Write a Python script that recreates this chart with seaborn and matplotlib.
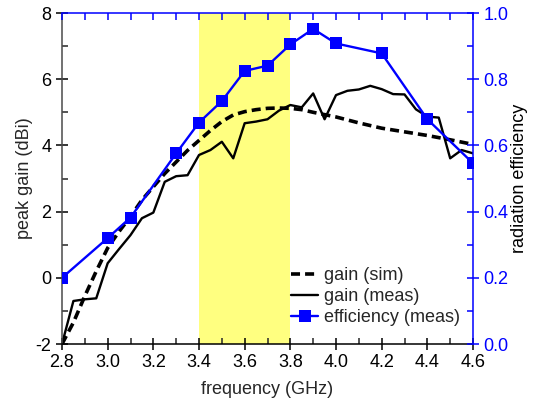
import matplotlib
matplotlib.use("Agg")
import matplotlib.pyplot as plt
import pandas as pd
import seaborn as sns
from matplotlib.ticker import MultipleLocator, FormatStrFormatter

# Simulated peak gain (dBi)
freq_sim = [2.80, 2.85, 2.90, 2.95, 3.00, 3.05, 3.10, 3.15, 3.20, 3.25, 3.30,
            3.35, 3.40, 3.45, 3.50, 3.55, 3.60, 3.65, 3.70, 3.75, 3.80, 3.85,
            3.90, 3.95, 4.00, 4.10, 4.20, 4.30, 4.40, 4.50, 4.60]
gain_sim = [-2.0, -1.35, -0.55, 0.2, 0.9, 1.4, 1.85, 2.35, 2.75, 3.15, 3.5,
            3.85, 4.15, 4.45, 4.72, 4.92, 5.02, 5.08, 5.12, 5.13, 5.12, 5.08,
            5.0, 4.93, 4.86, 4.68, 4.52, 4.41, 4.3, 4.17, 4.03]

# Measured peak gain (dBi)
freq_meas = [2.80, 2.85, 2.90, 2.95, 3.00, 3.05, 3.10, 3.15, 3.20, 3.25, 3.30,
             3.35, 3.40, 3.45, 3.50, 3.55, 3.60, 3.65, 3.70, 3.75, 3.80, 3.85,
             3.90, 3.95, 4.00, 4.05, 4.10, 4.15, 4.20, 4.25, 4.30, 4.35, 4.40,
             4.45, 4.50, 4.55, 4.60]
gain_meas = [-2.0, -0.7, -0.65, -0.62, 0.44, 0.87, 1.29, 1.8, 1.97, 2.9, 3.07,
             3.1, 3.71, 3.86, 4.11, 3.61, 4.67, 4.72, 4.79, 5.05, 5.22, 5.15,
             5.57, 4.79, 5.52, 5.65, 5.69, 5.80, 5.70, 5.55, 5.54, 5.09, 4.87,
             4.84, 3.61, 3.86, 3.76]

# Measured radiation efficiency
freq_eff = [2.8, 3.0, 3.1, 3.3, 3.4, 3.5, 3.6, 3.7, 3.8, 3.9, 4.0, 4.2, 4.4, 4.6]
eff_meas = [0.20, 0.32, 0.382, 0.576, 0.669, 0.734, 0.825, 0.841, 0.905,
            0.952, 0.908, 0.878, 0.679, 0.546]

df_sim = pd.DataFrame({"freq": freq_sim, "gain": gain_sim})
df_meas = pd.DataFrame({"freq": freq_meas, "gain": gain_meas})
df_eff = pd.DataFrame({"freq": freq_eff, "eff": eff_meas})

sns.set_style("ticks")
plt.rcParams["font.family"] = ["Liberation Sans", "DejaVu Sans"]
plt.rcParams["font.size"] = 13
plt.rcParams["axes.unicode_minus"] = False

FS = 13

fig = plt.figure(figsize=(5.34, 4.09), dpi=100)
ax = fig.add_axes([0.1161, 0.1589, 0.7697, 0.8093])

# operating band
ax.axvspan(3.4, 3.8, color="#ffff80", lw=0, zorder=0)

sns.lineplot(data=df_sim, x="freq", y="gain", ax=ax, color="black", lw=2.6,
             linestyle=(0, (2.5, 1.4)), label="gain (sim)")
sns.lineplot(data=df_meas, x="freq", y="gain", ax=ax, color="black", lw=1.7,
             label="gain (meas)")

ax.set_xlim(2.8, 4.6)
ax.set_ylim(-2, 8)
ax.xaxis.set_major_locator(MultipleLocator(0.2))
ax.xaxis.set_minor_locator(MultipleLocator(0.1))
ax.yaxis.set_major_locator(MultipleLocator(2))
ax.yaxis.set_minor_locator(MultipleLocator(1))
ax.xaxis.set_major_formatter(FormatStrFormatter("%.1f"))
ax.set_xlabel("frequency (GHz)", fontsize=FS, labelpad=7)
ax.set_ylabel("peak gain (dBi)", fontsize=FS, labelpad=2)
ax.tick_params(axis="both", which="major", direction="inout", length=9,
               width=1.1, labelsize=FS, colors="black", pad=3)
ax.tick_params(axis="both", which="minor", direction="in", length=4,
               width=1.1)
ax.tick_params(axis="x", top=False)
ax.spines["left"].set_color("#4a4a4a")
ax.spines["bottom"].set_color("black")
for s in ("left", "bottom"):
    ax.spines[s].set_linewidth(1.1)
ax.spines["top"].set_visible(False)
ax.spines["right"].set_visible(False)

ax2 = ax.twinx()
sns.lineplot(data=df_eff, x="freq", y="eff", ax=ax2, color="blue", lw=1.7,
             marker="s", markersize=8.5, markeredgewidth=0,
             label="efficiency (meas)")
ax2.set_ylim(0, 1)
ax2.yaxis.set_major_locator(MultipleLocator(0.2))
ax2.yaxis.set_minor_locator(MultipleLocator(0.1))
ax2.yaxis.set_major_formatter(FormatStrFormatter("%.1f"))
ax2.set_ylabel("radiation efficiency", fontsize=FS, color="black", labelpad=2)
ax2.tick_params(axis="y", which="major", direction="inout", length=9,
                width=1.1, labelsize=FS, colors="blue", pad=3)
ax2.tick_params(axis="y", which="minor", direction="in", length=4,
                width=1.1, colors="blue")
ax2.xaxis.set_visible(True)
ax2.set_xlabel("")
ax2.tick_params(axis="x", which="both", bottom=False, top=True,
                labelbottom=False, labeltop=False, direction="in",
                length=5, width=1.1, colors="blue")
for s in ("right", "top"):
    ax2.spines[s].set_color("blue")
    ax2.spines[s].set_linewidth(1.1)
ax2.spines["left"].set_visible(False)
ax2.spines["bottom"].set_visible(False)

h1, l1 = ax.get_legend_handles_labels()
h2, l2 = ax2.get_legend_handles_labels()
ax.get_legend().remove()
ax2.get_legend().remove()
ax2.legend(h1 + h2, l1 + l2, loc="lower left", bbox_to_anchor=(0.558, 0.054),
           frameon=False, borderpad=0, borderaxespad=0, handlelength=1.5,
           handletextpad=0.3, labelspacing=0.22, fontsize=FS)

fig.savefig("out.png", dpi=100)
